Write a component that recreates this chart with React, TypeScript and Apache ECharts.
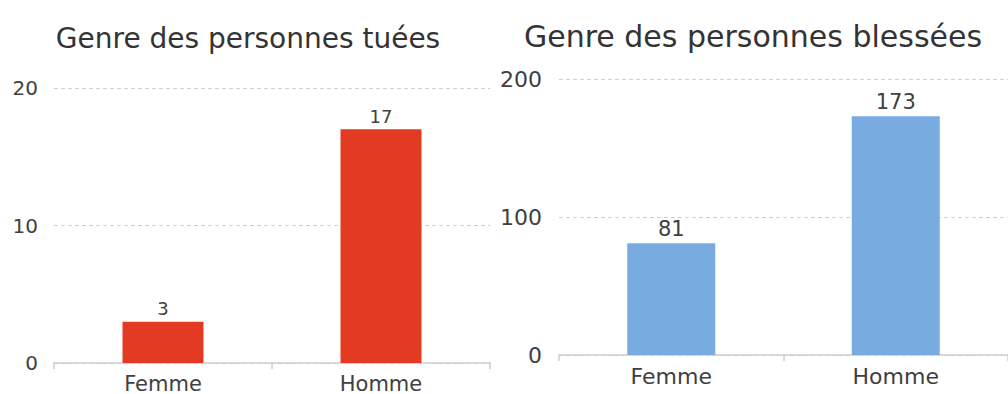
import React, { useEffect, useRef } from "react";
import * as echarts from "echarts";

// Categories and counts for the two bar charts
const categories = ["Femme", "Homme"];
const killedValues = [3, 17];
const injuredValues = [81, 173];

const killedTitle = "Genre des personnes tuées";
const injuredTitle = "Genre des personnes blessées";

const killedAxis = { min: 0, max: 20, interval: 10 };
const injuredAxis = { min: 0, max: 200, interval: 100 };

const FONT = "DejaVu Sans";
const RED = "#E33A22";
const BLUE = "#78ACE0";
const TEXT = "#404040";
const LINE = "#cfcfcf";

function catAxis(gridIndex: number, fontSize: number, margin: number) {
  return {
    type: "category",
    gridIndex,
    data: categories,
    axisLine: { show: true, lineStyle: { color: LINE, width: 1.5 } },
    axisTick: { show: true, length: 6, lineStyle: { color: LINE, width: 1.5 } },
    axisLabel: { color: TEXT, fontFamily: FONT, fontSize, margin },
  };
}

function valAxis(gridIndex: number, range: { min: number; max: number; interval: number }, fontSize: number, margin: number) {
  return {
    type: "value",
    gridIndex,
    min: range.min,
    max: range.max,
    interval: range.interval,
    axisLine: { show: false },
    axisTick: { show: false },
    splitLine: { show: true, lineStyle: { color: LINE, type: [4, 3], width: 1 } },
    axisLabel: { color: TEXT, fontFamily: FONT, fontSize, margin },
  };
}

export default function App() {
  const ref = useRef<HTMLDivElement>(null);

  useEffect(() => {
    if (!ref.current) return;
    const chart = echarts.init(ref.current, undefined, { renderer: "svg" });
    chart.setOption({
      animation: false,
      backgroundColor: "#ffffff",
      graphic: [
        {
          type: "text",
          x: 248,
          y: 38,
          style: {
            text: killedTitle,
            fill: "#333333",
            font: `28px '${FONT}'`,
            align: "center",
            verticalAlign: "middle",
          },
        },
        {
          type: "text",
          x: 753,
          y: 36,
          style: {
            text: injuredTitle,
            fill: "#333333",
            font: `30px '${FONT}'`,
            align: "center",
            verticalAlign: "middle",
          },
        },
      ],
      grid: [
        { left: 54, top: 88, width: 436, height: 277 },
        { left: 559, top: 79, width: 451, height: 276 },
      ],
      xAxis: [catAxis(0, 21, 10), catAxis(1, 22, 10)],
      yAxis: [valAxis(0, killedAxis, 20, 16), valAxis(1, injuredAxis, 22, 17)],
      series: [
        {
          type: "bar",
          xAxisIndex: 0,
          yAxisIndex: 0,
          data: killedValues,
          barWidth: 81,
          itemStyle: { color: RED },
          label: {
            show: true,
            position: "top",
            distance: 4,
            color: TEXT,
            fontFamily: FONT,
            fontSize: 18,
          },
        },
        {
          type: "bar",
          xAxisIndex: 1,
          yAxisIndex: 1,
          data: injuredValues,
          barWidth: 88,
          itemStyle: { color: BLUE },
          label: {
            show: true,
            position: "top",
            distance: 4,
            color: TEXT,
            fontFamily: FONT,
            fontSize: 21,
          },
        },
      ],
    });
    return () => chart.dispose();
  }, []);

  return (
    <div
      ref={ref}
      style={{ position: "absolute", left: 0, top: 0, width: 1008, height: 394 }}
    />
  );
}
